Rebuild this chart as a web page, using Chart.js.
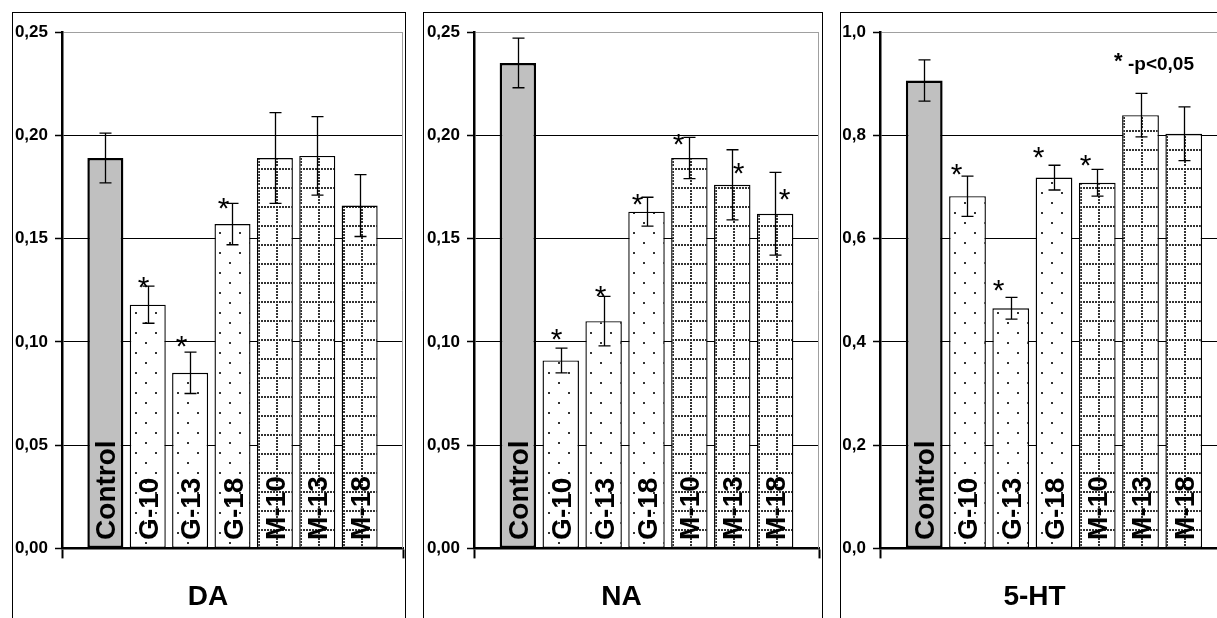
<!DOCTYPE html>
<html>
<head>
<meta charset="utf-8">
<script src="https://cdn.jsdelivr.net/npm/chart.js@4.4.1/dist/chart.umd.min.js"></script>
<style>
html, body { margin: 0; padding: 0; background: #fff; overflow: hidden; width: 1217px; height: 618px; }
.panel { position: absolute; top: 12px; height: 620px; border: 1px solid #000; box-sizing: border-box; background: #fff; }
canvas { display: block; }
</style>
</head>
<body>
<div class="panel" style="left:12px;width:394px"><canvas id="daChart" width="392" height="618"></canvas></div>
<div class="panel" style="left:423px;width:400px"><canvas id="naChart" width="398" height="618"></canvas></div>
<div class="panel" style="left:840px;width:420px"><canvas id="htChart" width="418" height="618"></canvas></div>
<script>
const groups = ['Control', 'G-10', 'G-13', 'G-18', 'M-10', 'M-13', 'M-18'];

const daMean = [0.189, 0.118, 0.085, 0.157, 0.189, 0.190, 0.166];
const daErr  = [0.012, 0.009, 0.010, 0.010, 0.022, 0.019, 0.015];
const daSig  = [false, true, true, true, false, false, false];

const naMean = [0.235, 0.091, 0.110, 0.163, 0.189, 0.176, 0.162];
const naErr  = [0.012, 0.006, 0.012, 0.007, 0.010, 0.017, 0.020];
const naSig  = [false, true, true, true, true, true, true];

const htMean = [0.906, 0.682, 0.465, 0.718, 0.708, 0.839, 0.803];
const htErr  = [0.040, 0.039, 0.021, 0.024, 0.026, 0.042, 0.052];
const htSig  = [false, true, true, true, true, false, false];

const FONT = '"Liberation Sans", Arial, sans-serif';

function dotPattern() {
    const c = document.createElement('canvas');
    c.width = 20; c.height = 20;
    const g = c.getContext('2d');
    g.fillStyle = '#fff';
    g.fillRect(0, 0, 20, 20);
    g.fillStyle = '#333';
    g.fillRect(4, 4, 2, 2);
    g.fillRect(14, 14, 2, 2);
    return g.createPattern(c, 'repeat');
}

function gridPattern() {
    const c = document.createElement('canvas');
    c.width = 18; c.height = 19;
    const g = c.getContext('2d');
    g.fillStyle = '#fff';
    g.fillRect(0, 0, 18, 19);
    g.fillStyle = '#333';
    for (let x = 0; x < 18; x += 3) g.fillRect(x, 0, 2, 2);
    for (let y = 3; y < 18; y += 3) g.fillRect(0, y, 2, 2);
    return g.createPattern(c, 'repeat');
}

function barFill(label) {
    if (label === 'Control') return '#c0c0c0';
    return label.startsWith('G') ? dotPattern() : gridPattern();
}

// gray right edge of the plot area, and patterns anchored to each bar
const plotFrame = {
    id: 'plotFrame',
    beforeDatasetsDraw(chart) {
        const a = chart.chartArea, ctx = chart.ctx;
        ctx.save();
        ctx.strokeStyle = '#a0a0a0';
        ctx.lineWidth = 1;
        ctx.beginPath();
        ctx.moveTo(Math.round(a.right) - 0.5, a.top);
        ctx.lineTo(Math.round(a.right) - 0.5, a.bottom);
        ctx.stroke();
        ctx.restore();
        chart.data.datasets.forEach((ds, i) => {
            const bar = chart.getDatasetMeta(i).data[0];
            if (bar && ds.backgroundColor instanceof CanvasPattern) {
                ds.backgroundColor.setTransform(new DOMMatrix([1, 0, 0, 1, Math.round(bar.x - bar.width / 2) + 1, Math.round(bar.base)]));
            }
        });
    }
};

const barMarks = {
    id: 'barMarks',
    afterDatasetsDraw(chart) {
        const ctx = chart.ctx, y = chart.scales.y;
        chart.data.datasets.forEach((ds, i) => {
            const bar = chart.getDatasetMeta(i).data[0];
            // rotated label inside the bar
            ctx.save();
            ctx.translate(bar.x, bar.base - 8);
            ctx.rotate(-Math.PI / 2);
            ctx.font = 'bold 28px ' + FONT;
            ctx.fillStyle = '#000';
            ctx.textAlign = 'left';
            ctx.textBaseline = 'alphabetic';
            ctx.fillText(ds.label, 0, 10);
            ctx.restore();

            // error bar
            const v = ds.data[0];
            const yTop = y.getPixelForValue(v + ds.err);
            const yBot = y.getPixelForValue(v - ds.err);
            const x = Math.round(bar.x) + 0.5;
            ctx.save();
            ctx.strokeStyle = '#000';
            ctx.lineWidth = 1.3;
            ctx.beginPath();
            ctx.moveTo(x, yTop); ctx.lineTo(x, yBot);
            ctx.moveTo(x - 6, yTop); ctx.lineTo(x + 6, yTop);
            ctx.moveTo(x - 6, yBot); ctx.lineTo(x + 6, yBot);
            ctx.stroke();
            ctx.restore();

            // significance star
            if (ds.sig) {
                const s = ds.starShift || [0, -8];
                ctx.save();
                ctx.font = '30px ' + FONT;
                ctx.fillStyle = '#000';
                ctx.textAlign = 'center';
                ctx.textBaseline = 'alphabetic';
                ctx.fillText('*', x + s[0], yTop + s[1] + 17);
                ctx.restore();
            }
        });
    }
};

const pNote = {
    id: 'pNote',
    afterDraw(chart) {
        const ctx = chart.ctx, a = chart.chartArea;
        ctx.save();
        ctx.fillStyle = '#000';
        ctx.textBaseline = 'alphabetic';
        ctx.textAlign = 'left';
        ctx.font = 'bold 22px ' + FONT;
        ctx.fillText('*', 273, a.top + 36);
        ctx.font = 'bold 19px ' + FONT;
        ctx.fillText('-p<0,05', 287, a.top + 38);
        ctx.restore();
    }
};

function buildPanel(canvasId, title, means, errs, sig, look) {
    const datasets = groups.map((g, i) => ({
        label: g,
        data: [means[i]],
        err: errs[i],
        sig: sig[i],
        starShift: look.stars[i],
        backgroundColor: barFill(g),
        borderColor: '#000',
        borderWidth: g === 'Control' ? 2.5 : 1.4,
        borderSkipped: false,
        categoryPercentage: 0.87,
        barPercentage: 0.85
    }));
    const top = look.max;
    return new Chart(document.getElementById(canvasId), {
        type: 'bar',
        data: { labels: [''], datasets },
        options: {
            responsive: false,
            animation: false,
            devicePixelRatio: 1,
            layout: { padding: { left: 0, right: look.padRight, top: 19, bottom: 17 } },
            plugins: {
                legend: { display: false },
                tooltip: { enabled: false },
                title: {
                    display: true, text: title, position: 'bottom', color: '#000',
                    font: { family: FONT, size: 28, weight: 'bold' },
                    padding: { top: 12, bottom: 0 }
                }
            },
            scales: {
                x: {
                    ticks: { display: false },
                    grid: { display: true, drawOnChartArea: false, drawTicks: true, tickLength: 10, tickColor: '#000', tickWidth: 2 },
                    border: { display: true, color: '#000', width: 2.5 },
                    afterFit: s => { s.height = 20; }
                },
                y: {
                    min: 0, max: top,
                    ticks: {
                        stepSize: look.step, color: '#000', padding: 7,
                        font: { family: FONT, size: 17, weight: 'bold' },
                        callback: v => v.toFixed(look.dec).replace('.', ',')
                    },
                    grid: {
                        color: c => (c.tick && c.tick.value >= top - 1e-9) ? '#a0a0a0' : '#000',
                        lineWidth: 1, tickLength: 7, tickColor: '#000', tickWidth: 1.5
                    },
                    border: { display: true, color: '#000', width: 2.5 },
                    afterFit: s => { s.width = look.yWidth; }
                }
            }
        },
        plugins: look.note ? [plotFrame, barMarks, pNote] : [plotFrame, barMarks]
    });
}

buildPanel('daChart', 'DA', daMean, daErr, daSig, {
    max: 0.25, step: 0.05, dec: 2, yWidth: 49, padRight: 2,
    stars: [null, [-5, -6], [-9, -13], [-9, -2], null, null, null]
});
buildPanel('naChart', 'NA', naMean, naErr, naSig, {
    max: 0.25, step: 0.05, dec: 2, yWidth: 50, padRight: 3,
    stars: [null, [-5, -16], [-4, -7], [-10, 0], [-11, 0], [6, 16], [9, 20]]
});
buildPanel('htChart', '5-HT', htMean, htErr, htSig, {
    max: 1.0, step: 0.2, dec: 1, yWidth: 39, padRight: 31, note: true,
    stars: [null, [-11, -9], [-13, -14], [-16, -15], [-12, -11], null, null]
});
</script>
</body>
</html>
